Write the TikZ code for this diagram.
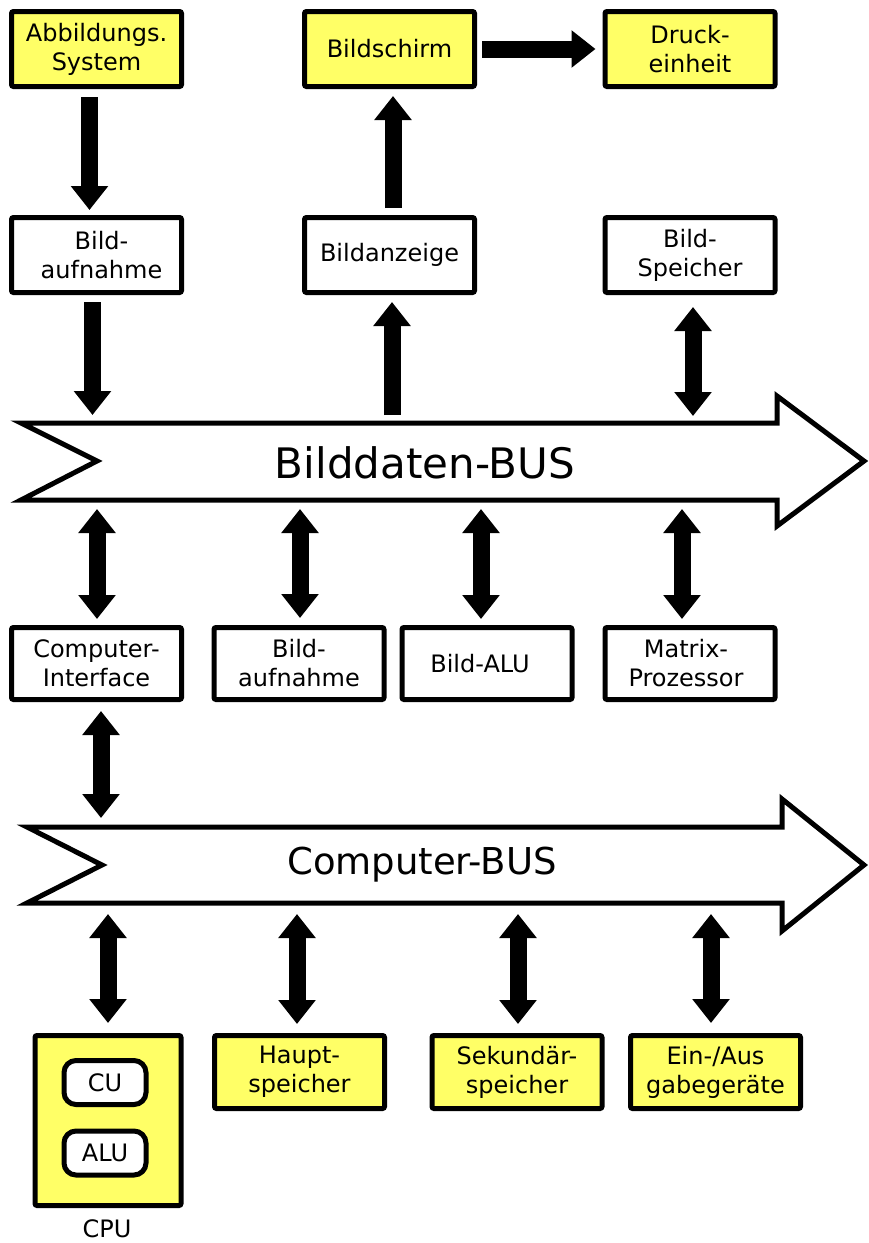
\documentclass[tikz,border=0pt]{standalone}
\usepackage{fontspec}
\setmainfont{DejaVu Sans}
\usepackage{xcolor}
\usetikzlibrary{arrows.meta,calc}
\definecolor{boxyellow}{RGB}{255,255,102}
\newcommand{\boxfont}{\fontsize{24}{29}\selectfont}

\begin{document}
\begin{tikzpicture}[
  x=1pt,y=-1pt,
  box/.style={draw=black, line width=5pt, rounded corners=2pt,
              fill=white, minimum width=170pt, minimum height=75pt,
              align=center, inner sep=0pt, font=\boxfont},
  ybox/.style={box, fill=boxyellow},
  unit/.style={draw=black, line width=5pt, rounded corners=12pt,
               fill=white, minimum width=82pt, minimum height=44pt,
               inner sep=0pt, font=\boxfont},
  bus/.style={draw=black, line width=5pt, fill=white, line join=miter},
  arr/.style={line width=17pt, draw=black, -{Triangle[length=24pt,width=36pt]}},
  darr/.style={line width=17pt, draw=black,
               {Triangle[length=24pt,width=36pt]}-{Triangle[length=24pt,width=36pt]}}
]
\useasboundingbox (0,0) rectangle (868,1243);

% top row
\node[ybox] (abb) at (96.5,49) {Abbildungs.\\System};
\node[ybox] (schirm) at (389.5,49) {Bildschirm};
\node[ybox] (druck) at (690,49) {Druck-\\einheit};

\node[box] (aufn1) at (96.5,255) {\hspace*{10pt}Bild-\\\hspace*{10pt}aufnahme};
\node[box] (anzeige) at (389.5,255) {Bildanzeige};
\node[box] (speicher) at (690,255) {Bild-\\Speicher};

% Bilddaten-BUS
\draw[bus] (21,423) -- (777,423) -- (777,396) -- (864,461) -- (777,526)
  -- (777,500) -- (21,500) -- (97,461) -- cycle;
\node[font=\fontsize{42}{50}\selectfont] (bildbus) at (425,463) {Bilddaten-BUS};
\coordinate (b1n) at (0,415);
\coordinate (b1s) at (0,509);

\node[box, minimum height=72pt] (iface) at (96.5,663.5) {Computer-\\Interface};
\node[box, minimum height=72pt] (aufn2) at (299,663.5) {Bild-\\aufnahme};
\node[box, minimum height=72pt] (balu) at (487,663.5) {Bild-ALU\hspace*{14pt}};
\node[box, minimum height=72pt] (matrix) at (690,663.5) {Matrix-\hspace*{8pt}\\Prozessor\hspace*{8pt}};

% Computer-BUS
\draw[bus] (27,827) -- (782,827) -- (782,799) -- (864,865) -- (782,931)
  -- (782,903) -- (27,903) -- (102,865) -- cycle;
\node[font=\fontsize{37}{44}\selectfont] (compbus) at (422,865) {Computer-BUS};
\coordinate (b2n) at (0,818);
\coordinate (b2s) at (0,914);

% bottom row
\node[ybox, minimum width=146pt, minimum height=170pt] (cpu) at (108,1120.5) {};
\node[unit] (cu) at (105,1082.5) {CU};
\node[unit] (alu) at (105,1153) {ALU};
\node[font=\boxfont] (cpulabel) at (107,1229) {CPU};
\node[ybox, minimum height=73pt] (haupt) at (299.5,1072) {Haupt-\\speicher};
\node[ybox, minimum height=73pt] (sek) at (517,1072) {Sekundär-\\speicher};
\node[ybox, minimum height=73pt] (ein) at (715.5,1072) {Ein-/Aus\\gabegeräte};

% arrows
\draw[arr] ([xshift=-7pt,yshift=-8pt]abb.south) -- ([xshift=-7pt,yshift=5pt]aufn1.north);
\draw[arr] ([xshift=3.5pt,yshift=7pt]anzeige.north) -- ([xshift=3.5pt,yshift=-7pt]schirm.south);
\draw[arr] ([xshift=5pt]schirm.east) -- ([xshift=-7pt]druck.west);
\draw[arr] ([xshift=-4pt,yshift=-7pt]aufn1.south) -- ($(aufn1.south |- b1n)+(-4,0)$);
\draw[arr] ($(anzeige.south |- b1n)+(2.5,0)$) -- ([xshift=2.5pt,yshift=-7pt]anzeige.south);
\draw[darr] ([xshift=3pt,yshift=-12pt]speicher.south) -- ($(speicher.south |- b1n)+(3,1)$);

\draw[darr] ($(iface.north |- b1s)+(0.5,0)$) -- ([xshift=0.5pt,yshift=6pt]iface.north);
\draw[darr] ($(aufn2.north |- b1s)+(1,0)$) -- ([xshift=1pt,yshift=7pt]aufn2.north);
\draw[darr] ($(balu.north |- b1s)+(-6,0)$) -- ([xshift=-6pt,yshift=6pt]balu.north);
\draw[darr] ($(matrix.north |- b1s)+(-8,0)$) -- ([xshift=-8pt,yshift=6pt]matrix.north);

\draw[darr] ([xshift=4.5pt,yshift=-9pt]iface.south) -- ($(iface.south |- b2n)+(4.5,0)$);

\draw[darr] (cpu.north |- b2s) -- ([yshift=10pt]cpu.north);
\draw[darr] ($(haupt.north |- b2s)+(-2.5,0)$) -- ([xshift=-2.5pt,yshift=9pt]haupt.north);
\draw[darr] ($(sek.north |- b2s)+(1,0)$) -- ([xshift=1pt,yshift=9pt]sek.north);
\draw[darr] ($(ein.north |- b2s)+(-4.5,0)$) -- ([xshift=-4.5pt,yshift=10pt]ein.north);

\end{tikzpicture}
\end{document}
